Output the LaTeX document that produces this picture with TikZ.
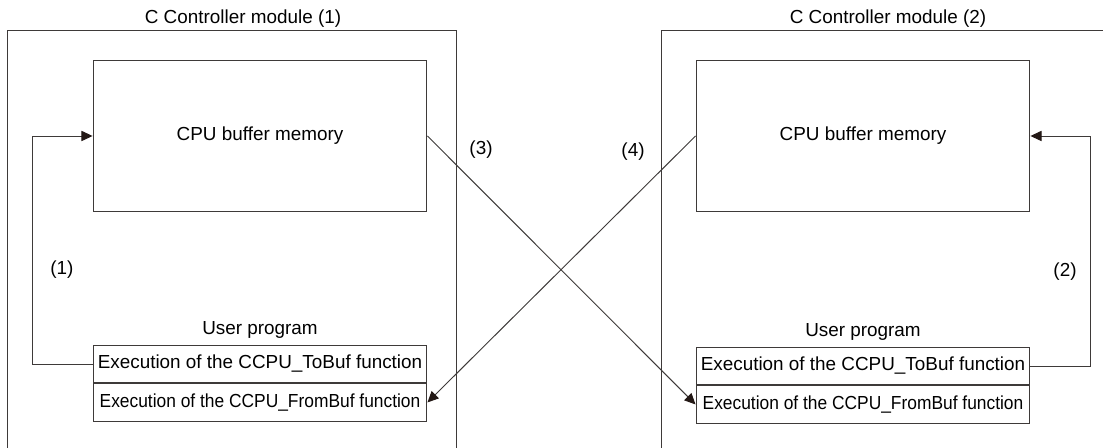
\documentclass[tikz,border=0pt]{standalone}
\usepackage{fontspec}
\setmainfont{Liberation Sans}
\usetikzlibrary{arrows.meta, positioning}
\definecolor{linegray}{HTML}{3E3A39}
\definecolor{tipblack}{HTML}{231815}

\begin{document}
\begin{tikzpicture}[
    x=0.02cm, y=-0.02cm,
    font=\fontsize{10.75pt}{12.9pt}\selectfont,
    line width=0.55pt,
    buffer/.style={rectangle, draw=linegray, minimum width=6.68cm, minimum height=3.02cm, inner sep=0pt},
    func/.style={rectangle, draw=linegray, minimum width=6.68cm, minimum height=0.75cm, inner sep=0pt},
    frame/.style={draw=linegray},
    link/.style={draw=linegray, -{Triangle[length=6.3pt, width=5.8pt, color=tipblack]}}
]
    \useasboundingbox (0,0) rectangle (1103,448);

    % module frames, cut off at the picture edge
    \draw[frame] (7,448) |- (456,30) -- (456,448);
    \draw[frame] (661,448) |- (1103,30);
    \node (mod1) at (243,19) {C Controller module (1)};
    \node (mod2) at (888,19) {C Controller module (2)};

    % module (1)
    \node[buffer] (buf1) at (260,136) {CPU buffer memory};
    \node[func] (tobuf1) at (260,364) {Execution of the CCPU\_ToBuf function};
    \node[func, below=0pt of tobuf1] (frombuf1) {\scalebox{0.92}[1]{Execution of the CCPU\_FromBuf function}};
    \node[above=0pt of tobuf1] (prog1) {User program};

    % module (2)
    \node[buffer] (buf2) at (863,136) {CPU buffer memory};
    \node[func] (tobuf2) at (863,366) {Execution of the CCPU\_ToBuf function};
    \node[func, below=0pt of tobuf2] (frombuf2) {\scalebox{0.92}[1]{Execution of the CCPU\_FromBuf function}};
    \node[above=0pt of tobuf2] (prog2) {User program};

    % transfers
    \draw[link] (tobuf1.west) -- ++(-60,0) |- (buf1.west);
    \draw[link] (tobuf2.east) -- ++(60,0) |- (buf2.east);
    \draw[link] (buf1.east) -- (frombuf2.west);
    \draw[link] (buf2.west) -- (frombuf1.east);

    \node (lab1) at (62,270) {(1)};
    \node (lab2) at (1065,272) {(2)};
    \node (lab3) at (481,150) {(3)};
    \node (lab4) at (633,152) {(4)};
\end{tikzpicture}
\end{document}
